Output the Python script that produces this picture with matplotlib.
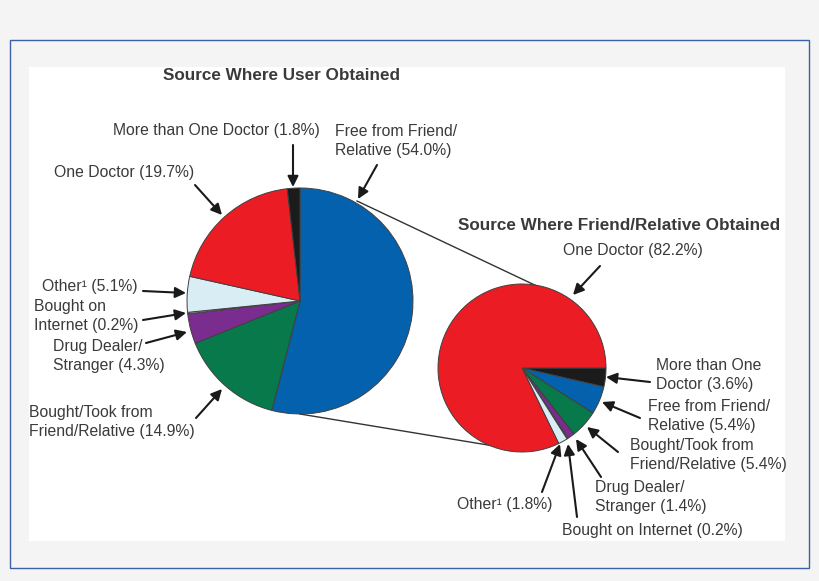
import matplotlib.pyplot as plt
from matplotlib.patches import Rectangle

plt.rcParams['font.family'] = ['Liberation Sans', 'DejaVu Sans']

# data
user_labels = ['Free from Friend/Relative', 'Bought/Took from Friend/Relative',
               'Drug Dealer/Stranger', 'Bought on Internet', 'Other',
               'One Doctor', 'More than One Doctor']
user_pct = [54.0, 14.9, 4.3, 0.2, 5.1, 19.7, 1.8]

friend_labels = ['More than One Doctor', 'Free from Friend/Relative',
                 'Bought/Took from Friend/Relative', 'Drug Dealer/Stranger',
                 'Bought on Internet', 'Other', 'One Doctor']
friend_pct = [3.6, 5.4, 5.4, 1.4, 0.2, 1.8, 82.2]

colors = {'Free from Friend/Relative': '#0461ad',
          'Bought/Took from Friend/Relative': '#08794a',
          'Drug Dealer/Stranger': '#7b2c8f',
          'Bought on Internet': '#d9edf4',
          'Other': '#d9edf4',
          'One Doctor': '#ec1c24',
          'More than One Doctor': '#1b1b1b'}

W, H = 820, 581
def Y(y):
    return H - y

fig = plt.figure(figsize=(8.2, 5.81), dpi=100, facecolor='#f4f4f4')
ax = fig.add_axes([0, 0, 1, 1])

# frame + white panel
ax.add_patch(Rectangle((10.5, Y(568)), 799, 528, fill=False, ec='#3d5fa6', lw=1.0))
ax.add_patch(Rectangle((29, Y(541)), 756, 474, fc='white', ec='none'))

# connector lines between pies
ax.plot([357, 541], [Y(201), Y(288)], color='#333333', lw=1.0, zorder=1)
ax.plot([300, 500], [Y(414), Y(447)], color='#333333', lw=1.0, zorder=1)

ax.pie(user_pct, colors=[colors[l] for l in user_labels], startangle=90,
       counterclock=False, center=(300, Y(301)), radius=113, frame=True,
       wedgeprops=dict(edgecolor='#404040', linewidth=0.7))
ax.pie(friend_pct, colors=[colors[l] for l in friend_labels], startangle=0,
       counterclock=False, center=(522, Y(368)), radius=84, frame=True,
       wedgeprops=dict(edgecolor='#404040', linewidth=0.7))
ax.set_xlim(0, W)
ax.set_ylim(0, H)
ax.set_aspect('auto')
ax.axis('off')

tc = '#3a3a3a'
ax.text(282, Y(76), 'Source Where User Obtained', ha='center', va='center',
        fontsize=12.3, fontweight='bold', color=tc)
ax.text(619, Y(226), 'Source Where Friend/Relative Obtained', ha='center', va='center',
        fontsize=12.3, fontweight='bold', color=tc)

labels = [
    ('More than One Doctor (1.8%)', 216, 131, 'center'),
    ('Free from Friend/\nRelative (54.0%)', 335, 141, 'left'),
    ('One Doctor (19.7%)', 124, 173, 'center'),
    ('Other\u00b9 (5.1%)', 42, 286, 'left'),
    ('Bought on\nInternet (0.2%)', 34, 316, 'left'),
    ('Drug Dealer/\nStranger (4.3%)', 53, 356, 'left'),
    ('Bought/Took from\nFriend/Relative (14.9%)', 29, 422, 'left'),
    ('One Doctor (82.2%)', 633, 251, 'center'),
    ('More than One\nDoctor (3.6%)', 656, 375, 'left'),
    ('Free from Friend/\nRelative (5.4%)', 648, 416, 'left'),
    ('Bought/Took from\nFriend/Relative (5.4%)', 630, 455, 'left'),
    ('Drug Dealer/\nStranger (1.4%)', 595, 497, 'left'),
    ('Other\u00b9 (1.8%)', 457, 505, 'left'),
    ('Bought on Internet (0.2%)', 562, 531, 'left'),
]
for txt, x, y, ha in labels:
    ax.text(x, Y(y), txt, ha=ha, va='center', fontsize=11.3, color=tc,
            linespacing=1.38)

arrows = [
    ((293, 145), (293, 187)),
    ((377, 165), (358, 199)),
    ((195, 185), (222, 215)),
    ((143, 291), (186, 293)),
    ((143, 320), (186, 313)),
    ((146, 343), (187, 332)),
    ((196, 418), (222, 389)),
    ((600, 266), (573, 295)),
    ((650, 382), (606, 377)),
    ((640, 418), (602, 402)),
    ((618, 452), (587, 427)),
    ((601, 477), (576, 439)),
    ((577, 517), (568, 444)),
    ((542, 492), (560, 444)),
]
for (x0, y0), (x1, y1) in arrows:
    ax.annotate('', xy=(x1, Y(y1)), xytext=(x0, Y(y0)),
                arrowprops=dict(arrowstyle='-|>', color='#1a1a1a', lw=1.5,
                                mutation_scale=16, shrinkA=0, shrinkB=0))

fig.savefig('out.png', dpi=100, facecolor=fig.get_facecolor())
